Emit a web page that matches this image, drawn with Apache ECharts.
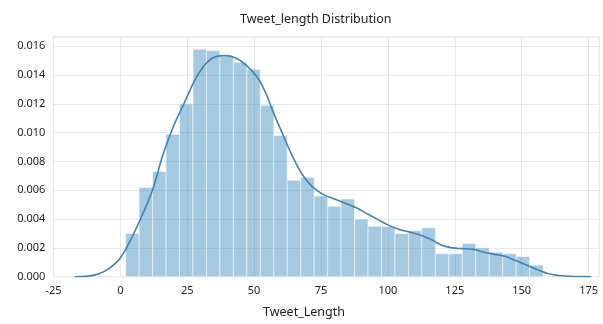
<!DOCTYPE html>
<html>
<head>
<meta charset="utf-8">
<script src="https://cdn.jsdelivr.net/npm/echarts@6/dist/echarts.min.js"></script>
<style>
  html, body { margin: 0; padding: 0; background: #fff; }
  #chart { width: 603px; height: 324px; }
</style>
</head>
<body>
<div id="chart"></div>
<script>
// Histogram of tweet lengths (density), 31 equal-width bins
const binStart = 2;
const binEnd = 158;
const binDensity = [
  0.0030, 0.0062, 0.0073, 0.0099, 0.0120, 0.0158, 0.0157, 0.0153, 0.0149, 0.0144,
  0.0119, 0.0098, 0.0067, 0.0069, 0.0056, 0.0049, 0.0054, 0.0040, 0.0035, 0.0035,
  0.0030, 0.0032, 0.0034, 0.0016, 0.0016, 0.0023, 0.0020, 0.0017, 0.0016, 0.0014,
  0.0008
];

// Kernel density estimate: sample positions and values
const kdeX = [-17, -12, -8, -4, 0, 4, 8, 12, 16, 20, 24, 28, 32, 36, 39, 43, 47, 51,
  54, 57, 60, 64, 68, 72, 76, 80, 84, 88, 92, 96, 100, 104, 108, 112, 116, 120, 124,
  128, 132, 136, 140, 144, 148, 152, 156, 160, 164, 168, 172, 176];
const kdeY = [0, 0.00004, 0.0002, 0.0006, 0.0013, 0.0026, 0.0042, 0.0060, 0.0085,
  0.0105, 0.0121, 0.0137, 0.0148, 0.0153, 0.01535, 0.0152, 0.0147, 0.0139, 0.0129,
  0.0115, 0.0102, 0.0085, 0.0071, 0.0062, 0.0057, 0.0054, 0.0051, 0.0048, 0.0044,
  0.0040, 0.0036, 0.0033, 0.0031, 0.0029, 0.0026, 0.0022, 0.0020, 0.00195, 0.0019,
  0.0017, 0.00155, 0.0014, 0.0011, 0.0008, 0.00048, 0.0002, 0.00008, 0.00003,
  0.00001, 0];

// Axis tick values
const xTicks = [-25, 0, 25, 50, 75, 100, 125, 150, 175];
const yTicks = [0, 0.002, 0.004, 0.006, 0.008, 0.010, 0.012, 0.014, 0.016];

const binWidth = (binEnd - binStart) / binDensity.length;
const histData = binDensity.map((d, i) => [binStart + i * binWidth, binStart + (i + 1) * binWidth, d]);
const kdeData = kdeX.map((x, i) => [x, kdeY[i]]);

const font = '"Noto Sans", "Open Sans", sans-serif';
const chart = echarts.init(document.getElementById('chart'), null, { renderer: 'canvas' });

chart.setOption({
  backgroundColor: '#ffffff',
  animation: false,
  title: {
    text: 'Tweet_length Distribution',
    left: 235,
    top: 8,
    textStyle: { fontFamily: font, fontSize: 12.5, fontWeight: 'normal', color: '#222' }
  },
  graphic: [{
    type: 'text',
    left: 263,
    top: 306,
    style: { text: 'Tweet_Length', fontFamily: font, fontSize: 12.5, fill: '#222' }
  }],
  grid: { left: 53.4, right: 3.7, top: 36.8, bottom: 47.3, show: true, borderColor: '#e8e8e8', borderWidth: 1 },
  xAxis: {
    type: 'value',
    min: xTicks[0],
    max: 179,
    interval: 25,
    axisLine: { show: false },
    axisTick: { show: false },
    axisLabel: {
      fontFamily: font, fontSize: 11, color: '#222', margin: 9,
      showMaxLabel: false,
      formatter: v => (xTicks.includes(v) ? String(v) : '')
    },
    splitLine: { show: true, lineStyle: { color: '#e8e8e8', width: 1 } }
  },
  yAxis: {
    type: 'value',
    min: 0,
    max: 0.01666,
    interval: 0.002,
    axisLine: { show: false },
    axisTick: { show: false },
    axisLabel: {
      fontFamily: font, fontSize: 11, color: '#222', margin: 8,
      showMaxLabel: false,
      formatter: v => (yTicks.some(t => Math.abs(t - v) < 1e-9) ? v.toFixed(3) : '')
    },
    splitLine: { show: true, lineStyle: { color: '#e8e8e8', width: 1 } }
  },
  series: [
    {
      type: 'custom',
      data: histData,
      encode: { x: [0, 1], y: 2 },
      renderItem: function (params, api) {
        const p0 = api.coord([api.value(0), api.value(2)]);
        const p1 = api.coord([api.value(1), 0]);
        return {
          type: 'rect',
          shape: { x: p0[0], y: p0[1], width: p1[0] - p0[0], height: p1[1] - p0[1] },
          style: { fill: 'rgba(31,119,180,0.4)', stroke: 'rgba(255,255,255,0.55)', lineWidth: 1 }
        };
      },
      z: 2
    },
    {
      type: 'line',
      data: kdeData,
      smooth: 0.4,
      showSymbol: false,
      lineStyle: { color: '#4282b6', width: 1.6 },
      z: 3
    }
  ]
});
</script>
</body>
</html>
